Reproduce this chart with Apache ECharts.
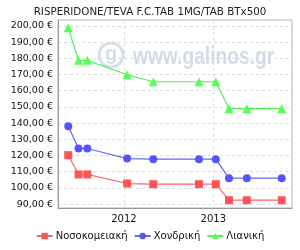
<!DOCTYPE html>
<html>
<head>
<meta charset="utf-8">
<script src="https://cdn.jsdelivr.net/npm/echarts@6/dist/echarts.min.js"></script>
<style>
  html, body { margin: 0; padding: 0; background: #fff; }
  #chart { width: 300px; height: 250px; }
</style>
</head>
<body>
<div id="chart"></div>
<script>
const title = "RISPERIDONE/TEVA F.C.TAB 1MG/TAB BTx500";
const dates = ["2011-05-18", "2011-06-29", "2011-08-04", "2012-01-14", "2012-04-30",
  "2012-11-03", "2013-01-11", "2013-03-06", "2013-05-18", "2013-10-08"];
const hospital = [120.2, 108.3, 108.3, 102.7, 102.3, 102.3, 102.3, 92.4, 92.4, 92.4];
const wholesale = [138.1, 124.3, 124.3, 118.1, 117.7, 117.7, 117.7, 106.0, 106.0, 106.0];
const retail = [198.8, 178.7, 178.7, 169.8, 165.5, 165.5, 165.5, 148.9, 148.9, 148.9];
const seriesNames = ["Νοσοκομειακή", "Χονδρική", "Λιανική"];

const font = "DejaVu Sans";
const chart = echarts.init(document.getElementById("chart"));

const pairs = (vals) => dates.map((d, i) => [d, vals[i]]);

const option = {
  animation: false,
  textStyle: { fontFamily: font },
  title: {
    text: title,
    left: "center",
    top: 2,
    textStyle: { fontSize: 10.3, fontWeight: "normal", color: "#222", fontFamily: font },
  },
  grid: {
    left: 58,
    right: 8,
    top: 20,
    bottom: 42,
    show: true,
    borderColor: "#b4b4b4",
    borderWidth: 1,
  },
  graphic: [
    {
      type: "group",
      z: 1,
      silent: true,
      children: [
        {
          type: "circle",
          shape: { cx: 111, cy: 55, r: 12 },
          style: { fill: "none", stroke: "#d3dfeb", lineWidth: 3 },
        },
        {
          type: "text",
          x: 111,
          y: 54,
          style: {
            text: "g",
            fill: "#d3dfeb",
            font: "bold 20px 'Liberation Sans'",
            align: "center",
            verticalAlign: "middle",
          },
        },
        {
          type: "text",
          x: 133,
          y: 57,
          scaleX: 0.8,
          style: {
            text: "www.galinos.gr",
            fill: "#d0dcea",
            font: "bold 24px 'Liberation Sans'",
            align: "left",
            verticalAlign: "middle",
          },
        },
      ],
    },
  ],
  legend: {
    bottom: 4,
    left: "center",
    itemWidth: 16,
    itemHeight: 8,
    itemGap: 6,
    textStyle: { fontSize: 10, color: "#111", fontFamily: font, padding: [0, 0, 0, -2] },
    data: seriesNames,
  },
  xAxis: {
    type: "time",
    min: "2011-04-06",
    max: "2013-11-19",
    splitNumber: 2,
    axisLine: { lineStyle: { color: "#999" } },
    axisTick: { show: false },
    axisLabel: {
      fontSize: 10,
      color: "#111",
      margin: 6,
      showMinLabel: false,
      showMaxLabel: false,
      formatter: (v) => String(new Date(v).getFullYear()),
    },
    splitLine: { show: true, lineStyle: { color: "#dcdcdc", type: [3, 3] } },
  },
  yAxis: {
    type: "value",
    min: 87.6,
    max: 203.6,
    splitNumber: 11,
    axisLine: { show: true, lineStyle: { color: "#999" } },
    axisTick: { show: false },
    axisLabel: {
      fontSize: 9.5,
      color: "#111",
      margin: 5,
      showMinLabel: false,
      showMaxLabel: false,
      formatter: (v) => v.toFixed(2).replace(".", ",") + " €",
    },
    splitLine: { show: true, lineStyle: { color: "#dcdcdc", type: [3, 3] } },
  },
  series: [
    {
      name: seriesNames[0],
      type: "line",
      data: pairs(hospital),
      symbol: "rect",
      symbolSize: 8,
      z: 3,
      itemStyle: { color: "#ff5555" },
      lineStyle: { width: 1.2, color: "#ff6666" },
    },
    {
      name: seriesNames[1],
      type: "line",
      data: pairs(wholesale),
      symbol: "circle",
      symbolSize: 8,
      z: 3,
      itemStyle: { color: "#5555ff" },
      lineStyle: { width: 1.2, color: "#6666ff" },
    },
    {
      name: seriesNames[2],
      type: "line",
      data: pairs(retail),
      symbol: "triangle",
      symbolSize: 9,
      z: 3,
      itemStyle: { color: "#55ff55" },
      lineStyle: { width: 1.2, color: "#55ee55" },
    },
  ],
};

chart.setOption(option);
</script>
</body>
</html>
